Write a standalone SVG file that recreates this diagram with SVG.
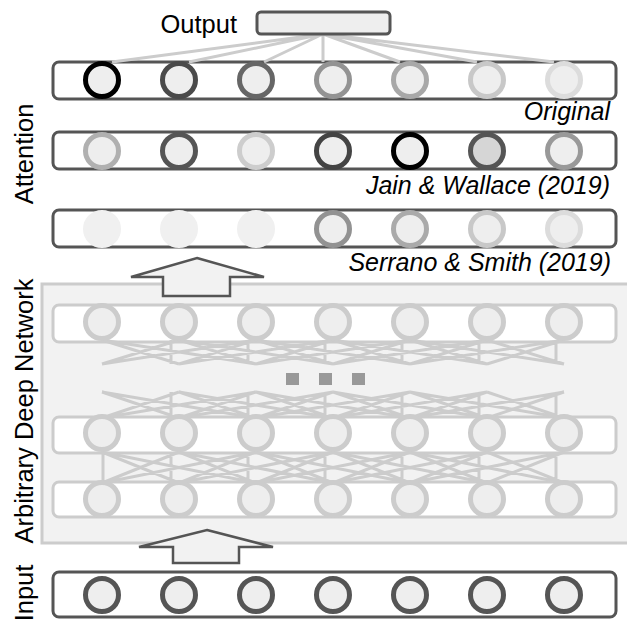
<svg xmlns="http://www.w3.org/2000/svg" width="627" height="624" viewBox="0 0 627 624">
<style>
text{font-family:"Liberation Sans",Arial,Helvetica,sans-serif;fill:#000}
.lbl{font-size:25.5px}
.cap{font-size:25px;font-style:italic;text-anchor:end}
.rowbox{fill:#fff;stroke:#555;stroke-width:3}
.netbox{fill:#fff;stroke:#ccc;stroke-width:3}
.n{fill:#eee;stroke-width:5}
.net{fill:#eee;stroke:#ccc;stroke-width:5}
.conn{fill:none;stroke:#ccc;stroke-width:3}
.arrow{fill:#f2f2f2;stroke:#555;stroke-width:2.5;stroke-linejoin:miter}
</style>

<!-- background network block -->
<rect id="deep-network-block" x="42" y="284" width="600" height="259" fill="#f2f2f2" stroke="#ccc" stroke-width="3"/>

<!-- side labels -->
<text class="lbl" transform="translate(33,154) rotate(-90)" text-anchor="middle">Attention</text>
<text class="lbl" transform="translate(33,411) rotate(-90)" text-anchor="middle">Arbitrary Deep Network</text>
<text class="lbl" transform="translate(33,593) rotate(-90)" text-anchor="middle">Input</text>

<!-- layer boxes -->
<g id="box-original"><rect class="rowbox" x="53" y="62" width="563" height="37" rx="6"/></g>
<g id="box-jain"><rect class="rowbox" x="53" y="132" width="563" height="37" rx="6"/></g>
<g id="box-serrano"><rect class="rowbox" x="53" y="210" width="563" height="37" rx="6"/></g>
<g id="box-net1"><rect class="netbox" x="53" y="305" width="563" height="37" rx="6"/></g>
<g id="box-net2"><rect class="netbox" x="53" y="417" width="563" height="36" rx="6"/></g>
<g id="box-net3"><rect class="netbox" x="53" y="482" width="563" height="35" rx="6"/></g>
<g id="box-input"><rect class="rowbox" x="53" y="572" width="563" height="45" rx="6"/></g>

<!-- connectors -->
<g id="connectors">
<path class="conn" d="M323 34L112 62M323 34L189 62M323 34L264 62M323 34L323 62M323 34L400 62M323 34L477 62M323 34L554 62"/>
<path class="conn" d="M102 340L179 364M102 340L256 364M179 340L102 364M179 340L256 364M179 340L333 364M256 340L102 364M256 340L179 364M256 340L333 364M256 340L410 364M333 340L179 364M333 340L256 364M333 340L410 364M333 340L487 364M410 340L256 364M410 340L333 364M410 340L487 364M410 340L564 364M487 340L333 364M487 340L410 364M487 340L564 364M564 340L410 364M564 340L487 364M171 340V364M248 340V364M325 340V364M402 340V364M479 340V364M556 340V364"/>
<path class="conn" d="M102 392L179 418M102 392L256 418M179 392L102 418M179 392L256 418M179 392L333 418M256 392L102 418M256 392L179 418M256 392L333 418M256 392L410 418M333 392L179 418M333 392L256 418M333 392L410 418M333 392L487 418M410 392L256 418M410 392L333 418M410 392L487 418M410 392L564 418M487 392L333 418M487 392L410 418M487 392L564 418M564 392L410 418M564 392L487 418M171 392V418M248 392V418M325 392V418M402 392V418M479 392V418M556 392V418"/>
<path class="conn" d="M102 452L179 483M102 452L256 483M179 452L102 483M179 452L256 483M179 452L333 483M256 452L102 483M256 452L179 483M256 452L333 483M256 452L410 483M333 452L179 483M333 452L256 483M333 452L410 483M333 452L487 483M410 452L256 483M410 452L333 483M410 452L487 483M410 452L564 483M487 452L333 483M487 452L410 483M487 452L564 483M564 452L410 483M564 452L487 483M103 452V483M171 452V483M248 452V483M325 452V483M402 452V483M479 452V483M556 452V483"/>
</g>

<!-- dots -->
<g id="ellipsis" fill="#999">
<rect x="286" y="373" width="13" height="12"/>
<rect x="319" y="373" width="13" height="12"/>
<rect x="352" y="373" width="13" height="12"/>
</g>

<!-- arrows -->
<g id="arrow-upper"><polygon class="arrow" points="197,258 264,277 230,277 230,296 163,296 163,277 131,277"/></g>
<g id="arrow-lower"><polygon class="arrow" points="207,530 273,547 239,547 239,563 173,563 173,547 139,547"/></g>

<!-- output -->
<g id="output">
<text class="lbl" x="237" y="33" text-anchor="end">Output</text>
<rect x="257" y="12" width="133" height="22" rx="4" fill="#eee" stroke="#555" stroke-width="3"/>
</g>

<!-- original attention -->
<g id="row-original">
<circle class="n" cx="102" cy="80" r="16.5" stroke="#000"/>
<circle class="n" cx="179" cy="80" r="16.5" stroke="#4a4a4a"/>
<circle class="n" cx="256" cy="80" r="16.5" stroke="#666"/>
<circle class="n" cx="333" cy="80" r="16.5" stroke="#939393"/>
<circle class="n" cx="410" cy="80" r="16.5" stroke="#a8a8a8"/>
<circle class="n" cx="487" cy="80" r="16.5" stroke="#c8c8c8"/>
<circle class="n" cx="564" cy="80" r="16.5" stroke="#dcdcdc"/>
<text class="cap" x="610" y="120">Original</text>
</g>

<!-- Jain & Wallace -->
<g id="row-jain">
<circle class="n" cx="102" cy="151" r="16.5" stroke="#b0b0b0"/>
<circle class="n" cx="179" cy="151" r="16.5" stroke="#555"/>
<circle class="n" cx="256" cy="151" r="16.5" stroke="#cdcdcd"/>
<circle class="n" cx="333" cy="151" r="16.5" stroke="#444"/>
<circle class="n" cx="410" cy="151" r="16.5" stroke="#000"/>
<circle class="n" cx="487" cy="151" r="16.5" stroke="#555" style="fill:#d6d6d6"/>
<circle class="n" cx="564" cy="151" r="16.5" stroke="#999"/>
<text class="cap" x="610" y="194">Jain &amp; Wallace (2019)</text>
</g>

<!-- Serrano & Smith -->
<g id="row-serrano">
<circle class="n" cx="102" cy="229" r="16.5" stroke="#f0f0f0" style="fill:#f0f0f0"/>
<circle class="n" cx="179" cy="229" r="16.5" stroke="#f0f0f0" style="fill:#f0f0f0"/>
<circle class="n" cx="256" cy="229" r="16.5" stroke="#f0f0f0" style="fill:#f0f0f0"/>
<circle class="n" cx="333" cy="229" r="16.5" stroke="#929292"/>
<circle class="n" cx="410" cy="229" r="16.5" stroke="#aaa"/>
<circle class="n" cx="487" cy="229" r="16.5" stroke="#c8c8c8"/>
<circle class="n" cx="564" cy="229" r="16.5" stroke="#dcdcdc"/>
<text class="cap" x="611" y="271">Serrano &amp; Smith (2019)</text>
</g>

<!-- network layers -->
<g id="net-layer1">
<circle class="net" cx="102" cy="322" r="16.5"/><circle class="net" cx="179" cy="322" r="16.5"/><circle class="net" cx="256" cy="322" r="16.5"/><circle class="net" cx="333" cy="322" r="16.5"/><circle class="net" cx="410" cy="322" r="16.5"/><circle class="net" cx="487" cy="322" r="16.5"/><circle class="net" cx="564" cy="322" r="16.5"/>
</g>
<g id="net-layer2">
<circle class="net" cx="102" cy="433" r="16.5"/><circle class="net" cx="179" cy="433" r="16.5"/><circle class="net" cx="256" cy="433" r="16.5"/><circle class="net" cx="333" cy="433" r="16.5"/><circle class="net" cx="410" cy="433" r="16.5"/><circle class="net" cx="487" cy="433" r="16.5"/><circle class="net" cx="564" cy="433" r="16.5"/>
</g>
<g id="net-layer3">
<circle class="net" cx="102" cy="499" r="16.5"/><circle class="net" cx="179" cy="499" r="16.5"/><circle class="net" cx="256" cy="499" r="16.5"/><circle class="net" cx="333" cy="499" r="16.5"/><circle class="net" cx="410" cy="499" r="16.5"/><circle class="net" cx="487" cy="499" r="16.5"/><circle class="net" cx="564" cy="499" r="16.5"/>
</g>

<!-- input -->
<g id="row-input">
<circle class="n" cx="102" cy="595" r="16.5" stroke="#555"/>
<circle class="n" cx="179" cy="595" r="16.5" stroke="#555"/>
<circle class="n" cx="256" cy="595" r="16.5" stroke="#555"/>
<circle class="n" cx="333" cy="595" r="16.5" stroke="#555"/>
<circle class="n" cx="410" cy="595" r="16.5" stroke="#555"/>
<circle class="n" cx="487" cy="595" r="16.5" stroke="#555"/>
<circle class="n" cx="564" cy="595" r="16.5" stroke="#555"/>
</g>
</svg>
